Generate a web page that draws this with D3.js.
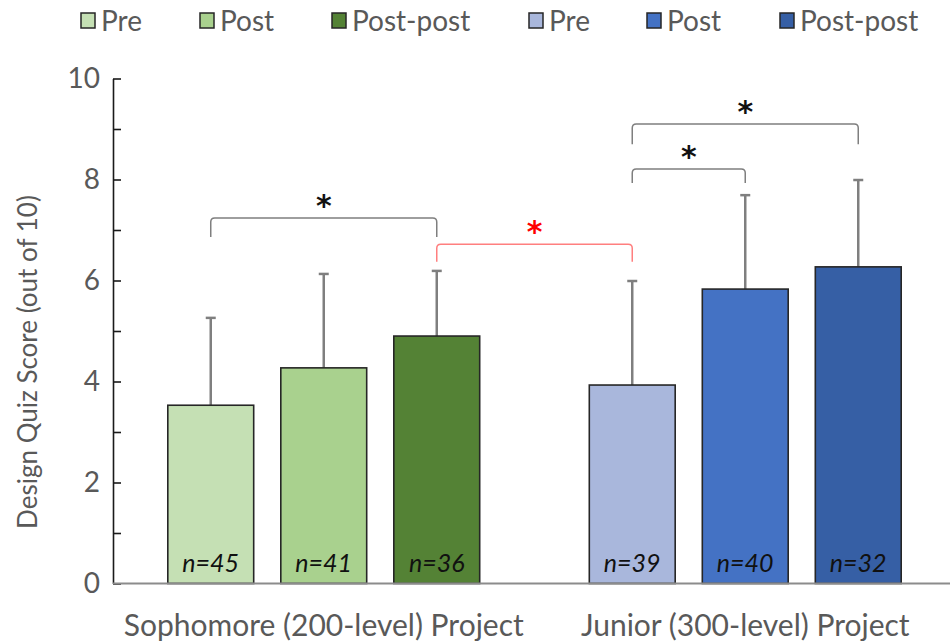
<!DOCTYPE html>
<html>
<head>
<meta charset="utf-8">
<script src="https://cdn.jsdelivr.net/npm/d3@7"></script>
<style>
  body { margin: 0; background: #fff; }
  text { font-family: Lato, "Open Sans", sans-serif; }
</style>
</head>
<body>
<svg width="950" height="644"></svg>
<script>
// data
const groups = ["Sophomore (200-level) Project", "Junior (300-level) Project"];
const phases = ["Pre", "Post", "Post-post"];
const means = [[3.53, 4.27, 4.90], [3.93, 5.83, 6.27]];
const sds = [[1.73, 1.86, 1.29], [2.06, 1.86, 1.72]];
const counts = [[45, 41, 36], [39, 40, 32]];
const yTicks = [0, 1, 2, 3, 4, 5, 6, 7, 8, 9, 10];
// brackets: [group, phase] from -> to, top and leg bottom in score units
const brackets = [
  { from: [0, 0], to: [0, 2], top: 7.24, leg: 6.86, red: false },
  { from: [0, 2], to: [1, 0], top: 6.72, leg: 6.37, red: true },
  { from: [1, 0], to: [1, 1], top: 8.21, leg: 7.93, red: false },
  { from: [1, 0], to: [1, 2], top: 9.10, leg: 8.70, red: false }
];

const colors = [
  ["#c5e0b4", "#a9d18e", "#548235"],
  ["#a9b7dc", "#4472c4", "#365fa5"]
];

let svg = d3.select("svg");

// --------------- //
// SCALES //
// --------------- //
let x0 = d3.scaleBand()
  .domain(groups)
  .range([113, 956]);

let x1 = d3.scaleBand()
  .domain(phases)
  .range([0, x0.bandwidth()])
  .paddingInner(0.24)
  .paddingOuter(0.485);

let y = d3.scaleLinear()
  .domain([0, 10])
  .range([583.5, 78.5]);

let cx = (g, p) => x0(groups[g]) + x1(phases[p]) + x1.bandwidth() / 2;

// --------------- //
// AXES //
// --------------- //
let yAxis = svg.append("g")
  .attr("transform", "translate(113,0)")
  .call(d3.axisLeft(y)
    .tickValues(yTicks)
    .tickFormat(d => d % 2 ? "" : d)
    .tickSizeInner(-8)
    .tickSizeOuter(0)
    .tickPadding(13));
yAxis.select(".domain").attr("stroke", "#1a1a1a").attr("stroke-width", 1.6);
yAxis.selectAll(".tick line").attr("stroke", "#1a1a1a").attr("stroke-width", 1.6);
yAxis.selectAll(".tick text")
  .style("font-size", "28px")
  .attr("fill", "#595959");

svg.append("text")
  .attr("transform", "translate(37,362) rotate(-90)")
  .attr("text-anchor", "middle")
  .attr("fill", "#595959")
  .style("font-size", "26px")
  .text("Design Quiz Score (out of 10)");

// --------------- //
// BARS //
// --------------- //
let rows = [];
groups.forEach((g, gi) => phases.forEach((p, pi) => rows.push({ gi, pi })));

svg.append("g")
  .selectAll("line")
  .data(rows)
  .enter()
  .append("line")
  .attr("x1", d => cx(d.gi, d.pi))
  .attr("x2", d => cx(d.gi, d.pi))
  .attr("y1", d => y(means[d.gi][d.pi]))
  .attr("y2", d => y(means[d.gi][d.pi] + sds[d.gi][d.pi]))
  .attr("stroke", "#7f7f7f")
  .attr("stroke-width", 2.5);

svg.append("g")
  .selectAll("line")
  .data(rows)
  .enter()
  .append("line")
  .attr("x1", d => cx(d.gi, d.pi) - 5)
  .attr("x2", d => cx(d.gi, d.pi) + 5)
  .attr("y1", d => y(means[d.gi][d.pi] + sds[d.gi][d.pi]))
  .attr("y2", d => y(means[d.gi][d.pi] + sds[d.gi][d.pi]))
  .attr("stroke", "#7f7f7f")
  .attr("stroke-width", 2.5);

svg.append("g")
  .selectAll("rect")
  .data(rows)
  .enter()
  .append("rect")
  .attr("x", d => x0(groups[d.gi]) + x1(phases[d.pi]))
  .attr("width", x1.bandwidth())
  .attr("y", d => y(means[d.gi][d.pi]))
  .attr("height", d => y(0) - y(means[d.gi][d.pi]))
  .attr("fill", d => colors[d.gi][d.pi])
  .attr("stroke", "#262626")
  .attr("stroke-width", 1.6);

svg.append("g")
  .selectAll("text")
  .data(rows)
  .enter()
  .append("text")
  .attr("x", d => cx(d.gi, d.pi))
  .attr("y", 572)
  .attr("text-anchor", "middle")
  .style("font-size", "25px")
  .style("font-style", "italic")
  .attr("fill", "#111")
  .text(d => "n=" + counts[d.gi][d.pi]);

// baseline
svg.append("line")
  .attr("x1", 113)
  .attr("x2", 950)
  .attr("y1", y(0))
  .attr("y2", y(0))
  .attr("stroke", "#8c8c8c")
  .attr("stroke-width", 2);

// group labels
svg.append("g")
  .selectAll("text")
  .data(groups)
  .enter()
  .append("text")
  .attr("x", d => x0(d) + x0.bandwidth() / 2)
  .attr("y", 636)
  .attr("text-anchor", "middle")
  .attr("fill", "#595959")
  .style("font-size", "30px")
  .text(d => d);

// --------------- //
// SIGNIFICANCE //
// --------------- //
let bg = svg.append("g");
brackets.forEach(b => {
  let xa = cx(b.from[0], b.from[1]), xb = cx(b.to[0], b.to[1]);
  let yt = y(b.top), yl = y(b.leg), r = 4;
  bg.append("path")
    .attr("d", `M${xa},${yl} V${yt + r} Q${xa},${yt} ${xa + r},${yt} H${xb - r} Q${xb},${yt} ${xb},${yt + r} V${yl}`)
    .attr("fill", "none")
    .attr("stroke", b.red ? "#ff7f7f" : "#7f7f7f")
    .attr("stroke-width", 1.5);
  bg.append("text")
    .attr("x", (xa + xb) / 2)
    .attr("y", yt - 2)
    .attr("text-anchor", "middle")
    .style("font-family", "DejaVu Sans")
    .style("font-weight", "bold")
    .style("font-size", "30px")
    .attr("fill", b.red ? "#ff0000" : "#111")
    .text("*");
});

// --------------- //
// LEGEND //
// --------------- //
const legendX = [81, 200, 332, 529, 647, 780];
let items = [];
groups.forEach((g, gi) => phases.forEach((p, pi) => items.push({ gi, pi, label: p })));

let lg = svg.append("g")
  .selectAll("g")
  .data(items)
  .enter()
  .append("g")
  .attr("transform", (d, i) => "translate(" + legendX[i] + ",0)");
lg.append("rect")
  .attr("x", 0)
  .attr("y", 13)
  .attr("width", 14)
  .attr("height", 15)
  .attr("fill", d => colors[d.gi][d.pi])
  .attr("stroke", "#262626")
  .attr("stroke-width", 1.5);
lg.append("text")
  .attr("x", 20)
  .attr("y", 31)
  .attr("fill", "#595959")
  .style("font-size", "28px")
  .text(d => d.label);
</script>
</body>
</html>
